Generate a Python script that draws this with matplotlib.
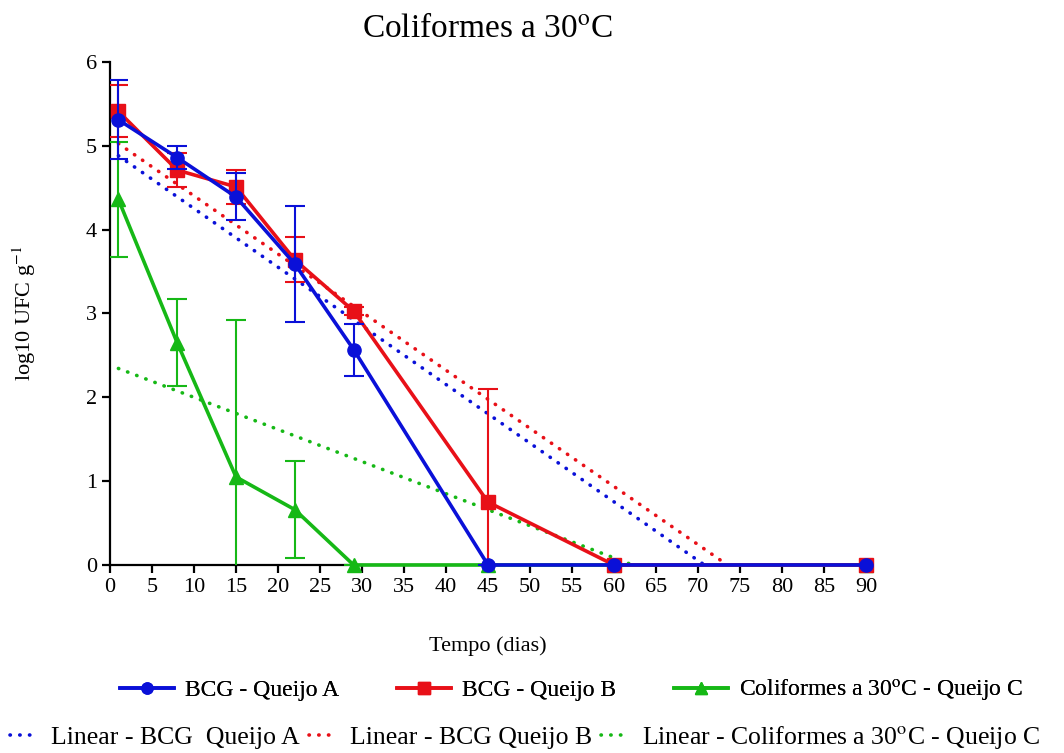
import numpy as np
import matplotlib.pyplot as plt
from matplotlib.lines import Line2D

plt.rcParams['font.family'] = ['Liberation Serif', 'DejaVu Serif']
plt.rcParams['mathtext.fontset'] = 'stix'

# dias de amostragem
dias = [1, 8, 15, 22, 29, 45, 60, 90]

# log10 UFC/g
queijo_a = [5.31, 4.86, 4.39, 3.59, 2.57, 0, 0, 0]
erro_a = [0.47, 0.14, 0.28, 0.69, 0.31, 0, 0, 0]
queijo_b = [5.41, 4.71, 4.51, 3.64, 3.03, 0.75, 0, 0]
erro_b = [0.31, 0.20, 0.20, 0.27, 0.05, 1.35, 0, 0]
queijo_c = [4.36, 2.65, 1.05, 0.66, 0, 0, 0, 0]
erro_c = [0.69, 0.52, 1.87, 0.58, 0, 0, 0, 0]

azul = '#0a10d8'
vermelho = '#e81018'
verde = '#16b816'
pontilhado = (0, (0.1, 2.6))

fig = plt.figure(figsize=(10.64, 7.53), dpi=100)
ax = fig.add_axes([0.1034, 0.2497, 0.7105, 0.668])

x = np.array(dias, dtype=float)


def tendencia(y, cor):
    a, b = np.polyfit(x, np.array(y), 1)
    x0 = -b / a  # onde a reta cruza zero
    xs = np.array([1, x0])
    ax.plot(xs, a * xs + b, color=cor, lw=2.6, linestyle=pontilhado,
            dash_capstyle='round', zorder=2)


tendencia(queijo_a, azul)
tendencia(queijo_b, vermelho)
tendencia(queijo_c, verde)

series = [(queijo_c, erro_c, verde, '^'),
          (queijo_b, erro_b, vermelho, 's'),
          (queijo_a, erro_a, azul, 'o')]
for i, (y, e, cor, m) in enumerate(series):
    ax.errorbar(x, y, yerr=e, fmt='none', ecolor=cor, capsize=7,
                elinewidth=1.5, capthick=1.5, zorder=3 + i)
    ax.plot(x, y, color=cor, lw=2.6, marker=m, ms=9.5, clip_on=False,
            zorder=3.5 + i)

ax.set_xlim(0, 90)
ax.set_ylim(0, 6)
ax.set_xticks(range(0, 91, 5))
ax.set_yticks(range(0, 7))
for s in ['top', 'right']:
    ax.spines[s].set_visible(False)
for s in ['left', 'bottom']:
    ax.spines[s].set_linewidth(1.6)
ax.tick_params(width=1.6, length=6, labelsize=16)

ax.set_title('Coliformes a 30$^{\\mathrm{o}}$C', fontsize=24, pad=18)
ax.set_xlabel('Tempo (dias)', fontsize=16, labelpad=28)
ax.set_ylabel('log10 UFC g$^{-1}$', fontsize=16, labelpad=34)

# legenda em duas linhas
h1 = [Line2D([], [], color=azul, lw=2.6, marker='o', ms=8),
      Line2D([], [], color=vermelho, lw=2.6, marker='s', ms=8),
      Line2D([], [], color=verde, lw=2.6, marker='^', ms=8)]
l1 = ['BCG - Queijo A', 'BCG - Queijo B', 'Coliformes a 30$^{\\mathrm{o}}$C - Queijo C']
leg1 = fig.legend(h1, l1, ncol=3, loc='center left', bbox_to_anchor=(120 / 1064, 0.083),
                  frameon=False, fontsize=17, handlelength=2.3, handletextpad=0.45,
                  columnspacing=2.45, borderpad=0, borderaxespad=0)
fig.add_artist(leg1)

h2 = [Line2D([], [], color=c, lw=2.6, linestyle=pontilhado, dash_capstyle='round')
      for c in [azul, vermelho, verde]]
l2 = ['Linear - BCG  Queijo A', 'Linear - BCG Queijo B',
      'Linear - Coliformes a 30$^{\\mathrm{o}}$C - Queijo C']
fig.legend(h2, l2, ncol=3, loc='center left', bbox_to_anchor=(10 / 1064, 0.02),
           frameon=False, fontsize=18.5, handlelength=1.1, handletextpad=0.5,
           columnspacing=0.35, borderpad=0, borderaxespad=0)

fig.savefig('out.png', dpi=100)
